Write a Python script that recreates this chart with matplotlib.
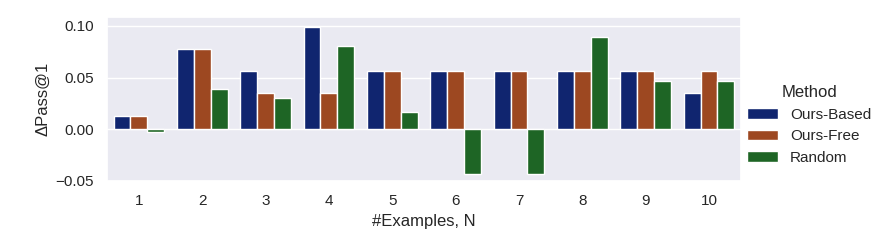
import numpy as np
import pandas as pd
import matplotlib
matplotlib.use("Agg")
import matplotlib.pyplot as plt
import seaborn as sns

# values
n_examples = [1, 2, 3, 4, 5, 6, 7, 8, 9, 10]
methods = ["Ours-Based", "Ours-Free", "Random"]
ours_based = [0.0125, 0.078, 0.056, 0.099, 0.056, 0.056, 0.056, 0.056, 0.056, 0.035]
ours_free = [0.0125, 0.078, 0.035, 0.035, 0.056, 0.056, 0.056, 0.056, 0.056, 0.056]
random_sel = [-0.0026, 0.0385, 0.030, 0.080, 0.017, -0.0436, -0.0436, 0.0894, 0.047, 0.047]

df = pd.DataFrame({
    "N": n_examples * 3,
    "Method": [m for m in methods for _ in n_examples],
    "delta": ours_based + ours_free + random_sel,
})

sns.set_theme(style="darkgrid")
plt.rcParams["font.family"] = ["Liberation Sans", "DejaVu Sans"]

fig, ax = plt.subplots(figsize=(8.86, 2.5), dpi=100)
sns.barplot(data=df, x="N", y="delta", hue="Method", palette="dark",
            edgecolor="white", linewidth=1, ax=ax)
ax.set_xlabel("#Examples, N")
ax.set_ylabel("ΔPass@1")
ax.set_ylim(-0.0495, 0.1085)
ax.set_yticks([-0.05, 0.0, 0.05, 0.10])

ax.legend_.remove()
handles, labels = ax.get_legend_handles_labels()
fig.legend(handles, labels, title="Method", frameon=False,
           loc="center left", bbox_to_anchor=(0.828, 0.5))

fig.subplots_adjust(left=0.121, right=0.836, top=0.932, bottom=0.276)
fig.savefig("out.png", dpi=100)
plt.close(fig)
